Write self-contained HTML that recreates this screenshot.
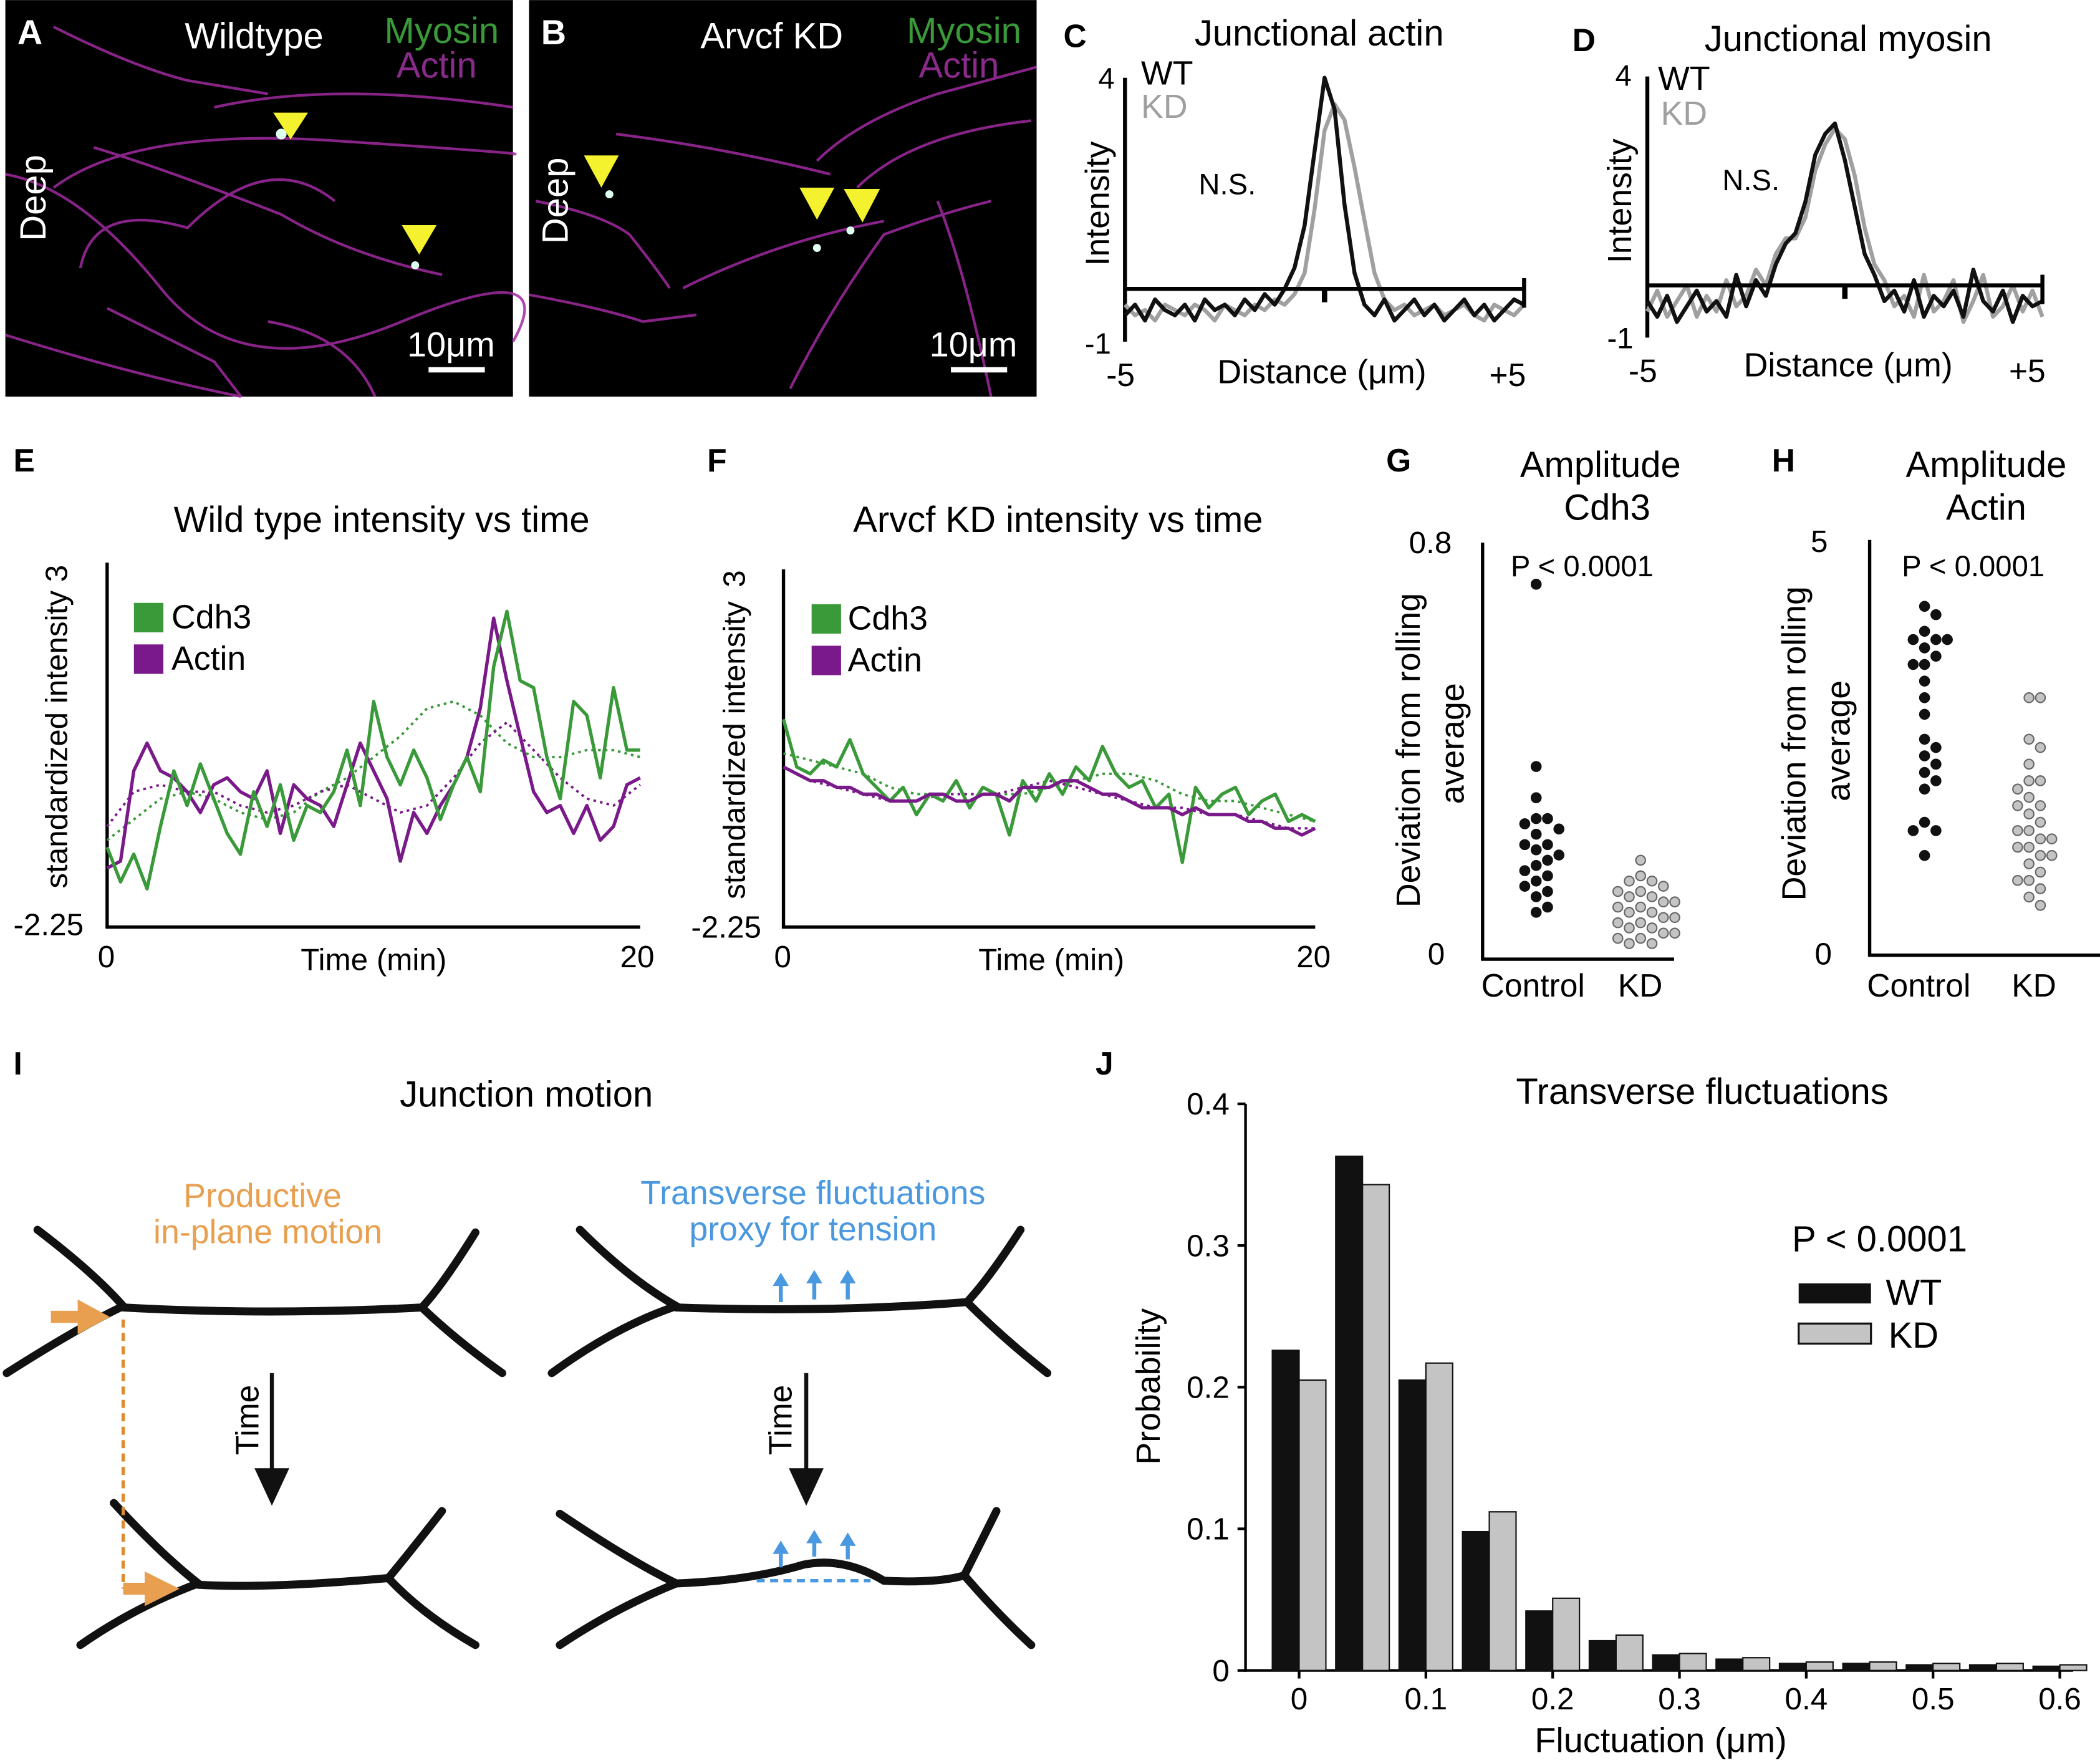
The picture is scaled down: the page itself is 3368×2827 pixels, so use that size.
<!DOCTYPE html>
<html><head><meta charset="utf-8"><style>
html,body{margin:0;padding:0;background:#fff}
svg{display:block}
text{font-family:"Liberation Sans",Arial,sans-serif}
</style></head><body>
<svg id="fig" xmlns="http://www.w3.org/2000/svg" width="3368" height="2827" viewBox="0 0 1568 1316">
<rect width="1568" height="1316" fill="#fff"/>
<!-- Panel A -->
<g>
<rect x="4" y="0" width="379" height="296" fill="#000"/>
<g fill="none" stroke="#a02aa0" stroke-width="2" opacity="0.85">
<path d="M4,130 Q60,140 120,215 T300,240 T383,255"/>
<path d="M40,140 Q100,95 250,105 T383,115"/>
<path d="M60,200 Q70,150 140,170 Q200,110 250,150"/>
<path d="M4,250 Q100,280 180,296"/>
<path d="M70,110 Q120,125 210,160 Q260,190 330,205"/>
<path d="M80,230 Q120,250 160,270 L180,296"/>
<path d="M40,20 Q100,50 140,60 L200,70"/>
<path d="M160,80 Q250,60 383,80"/>
<path d="M200,240 Q260,250 280,296"/>
</g>
<circle cx="210" cy="100" r="4" fill="#dfe"/>
<circle cx="310" cy="198" r="3" fill="#dfe"/>
<polygon points="204,84 230,84 217,104" fill="#f4f22e"/>
<polygon points="300,168 326,168 313,190" fill="#f4f22e"/>
<text x="13" y="33" font-size="26" font-weight="bold" fill="#fff">A</text>
<text x="138" y="36" font-size="27" fill="#fff">Wildtype</text>
<text x="287" y="32" font-size="27" fill="#3a9a3a">Myosin</text>
<text x="296" y="58" font-size="27" fill="#8a2a8a">Actin</text>
<text transform="translate(34,180) rotate(-90)" font-size="27" fill="#fff">Deep</text>
<text x="304" y="266" font-size="26" fill="#fff">10μm</text>
<rect x="320" y="274" width="42" height="4" fill="#fff"/>
</g>
<!-- Panel B -->
<g>
<rect x="395" y="0" width="379" height="296" fill="#000"/>
<g fill="none" stroke="#a02aa0" stroke-width="2" opacity="0.85">
<path d="M400,150 Q450,160 470,175 Q490,200 500,215"/>
<path d="M510,215 Q580,180 660,165"/>
<path d="M590,290 Q620,230 660,175 Q700,160 740,150"/>
<path d="M395,220 Q450,230 480,240 L520,235"/>
<path d="M640,140 Q680,100 770,90"/>
<path d="M610,120 Q640,90 700,70 L774,50"/>
<path d="M460,100 Q540,110 620,130"/>
<path d="M700,150 Q720,200 740,296"/>
</g>
<circle cx="455" cy="145" r="3" fill="#dfe"/>
<circle cx="610" cy="185" r="3" fill="#dfe"/>
<circle cx="635" cy="172" r="3" fill="#dfe"/>
<polygon points="436,116 462,116 449,140" fill="#f4f22e"/>
<polygon points="597,140 623,140 610,164" fill="#f4f22e"/>
<polygon points="630,141 657,141 644,166" fill="#f4f22e"/>
<text x="404" y="33" font-size="26" font-weight="bold" fill="#fff">B</text>
<text x="523" y="36" font-size="27" fill="#fff">Arvcf KD</text>
<text x="677" y="32" font-size="27" fill="#3a9a3a">Myosin</text>
<text x="686" y="58" font-size="27" fill="#8a2a8a">Actin</text>
<text transform="translate(424,182) rotate(-90)" font-size="27" fill="#fff">Deep</text>
<text x="694" y="266" font-size="26" fill="#fff">10μm</text>
<rect x="710" y="274" width="42" height="4" fill="#fff"/>
</g>
<!-- Static labels -->
<g font-size="25" fill="#000">
<text x="794" y="35" font-weight="bold" font-size="24">C</text>
<text x="985" y="34" text-anchor="middle" font-size="27">Junctional actin</text>
<text x="852" y="63" font-size="25">WT</text>
<text x="852" y="88" font-size="25" fill="#a0a0a0">KD</text>
<text x="895" y="145" font-size="22">N.S.</text>
<text transform="translate(828,152) rotate(-90)" text-anchor="middle" font-size="25">Intensity</text>
<text x="820" y="66" font-size="22">4</text>
<text x="810" y="264" font-size="22">-1</text>
<text x="826" y="288" font-size="24">-5</text>
<text x="1112" y="288" font-size="24">+5</text>
<text x="987" y="286" text-anchor="middle" font-size="25">Distance (μm)</text>

<text x="1174" y="38" font-weight="bold" font-size="24">D</text>
<text x="1380" y="38" text-anchor="middle" font-size="27">Junctional myosin</text>
<text x="1238" y="67" font-size="25">WT</text>
<text x="1240" y="93" font-size="25" fill="#a0a0a0">KD</text>
<text x="1286" y="142" font-size="22">N.S.</text>
<text transform="translate(1218,150) rotate(-90)" text-anchor="middle" font-size="25">Intensity</text>
<text x="1206" y="64" font-size="22">4</text>
<text x="1200" y="260" font-size="22">-1</text>
<text x="1216" y="285" font-size="24">-5</text>
<text x="1500" y="285" font-size="24">+5</text>
<text x="1380" y="281" text-anchor="middle" font-size="25">Distance (μm)</text>

<text x="10" y="352" font-weight="bold" font-size="24">E</text>
<text x="285" y="397" text-anchor="middle" font-size="27">Wild type intensity vs time</text>
<text transform="translate(50,552) rotate(-90)" text-anchor="middle" font-size="23">standardized intensity</text>
<text transform="translate(50,428) rotate(-90)" text-anchor="middle" font-size="23">3</text>
<text x="10" y="698" font-size="23">-2.25</text>
<text x="73" y="722" font-size="23">0</text>
<text x="463" y="722" font-size="23">20</text>
<text x="279" y="724" text-anchor="middle" font-size="23">Time (min)</text>

<text x="528" y="352" font-weight="bold" font-size="24">F</text>
<text x="790" y="397" text-anchor="middle" font-size="27">Arvcf KD intensity vs time</text>
<text transform="translate(556,560) rotate(-90)" text-anchor="middle" font-size="23">standardized intensity</text>
<text transform="translate(556,432) rotate(-90)" text-anchor="middle" font-size="23">3</text>
<text x="516" y="700" font-size="23">-2.25</text>
<text x="578" y="722" font-size="23">0</text>
<text x="968" y="722" font-size="23">20</text>
<text x="785" y="724" text-anchor="middle" font-size="23">Time (min)</text>

<text x="1035" y="352" font-weight="bold" font-size="24">G</text>
<text x="1195" y="356" text-anchor="middle" font-size="27">Amplitude</text>
<text x="1200" y="388" text-anchor="middle" font-size="27">Cdh3</text>
<text x="1128" y="430" font-size="22">P &lt; 0.0001</text>
<text transform="translate(1060,560) rotate(-90)" text-anchor="middle" font-size="25">Deviation from rolling</text>
<text transform="translate(1093,555) rotate(-90)" text-anchor="middle" font-size="25">average</text>
<text x="1052" y="413" font-size="23">0.8</text>
<text x="1066" y="720" font-size="23">0</text>
<text x="1106" y="744" font-size="24">Control</text>
<text x="1208" y="744" font-size="24">KD</text>

<text x="1323" y="352" font-weight="bold" font-size="24">H</text>
<text x="1483" y="356" text-anchor="middle" font-size="27">Amplitude</text>
<text x="1483" y="388" text-anchor="middle" font-size="27">Actin</text>
<text x="1420" y="430" font-size="22">P &lt; 0.0001</text>
<text transform="translate(1348,555) rotate(-90)" text-anchor="middle" font-size="25">Deviation from rolling</text>
<text transform="translate(1381,553) rotate(-90)" text-anchor="middle" font-size="25">average</text>
<text x="1352" y="412" font-size="23">5</text>
<text x="1355" y="720" font-size="23">0</text>
<text x="1394" y="744" font-size="24">Control</text>
<text x="1502" y="744" font-size="24">KD</text>

<text x="10" y="802" font-weight="bold" font-size="24">I</text>
<text x="393" y="826" text-anchor="middle" font-size="27">Junction motion</text>
<text x="196" y="901" text-anchor="middle" font-size="25" fill="#e8a050">Productive</text>
<text x="200" y="928" text-anchor="middle" font-size="25" fill="#e8a050">in-plane motion</text>
<text x="607" y="899" text-anchor="middle" font-size="25" fill="#4a98e0">Transverse fluctuations</text>
<text x="607" y="926" text-anchor="middle" font-size="25" fill="#4a98e0">proxy for tension</text>
<text transform="translate(193,1060) rotate(-90)" text-anchor="middle" font-size="24">Time</text>
<text transform="translate(591,1060) rotate(-90)" text-anchor="middle" font-size="24">Time</text>

<text x="818" y="802" font-weight="bold" font-size="24">J</text>
<text x="1271" y="824" text-anchor="middle" font-size="27">Transverse fluctuations</text>
<text transform="translate(866,1035) rotate(-90)" text-anchor="middle" font-size="25">Probability</text>
<text x="1240" y="1308" text-anchor="middle" font-size="26">Fluctuation (μm)</text>
<text x="1338" y="934" font-size="27">P &lt; 0.0001</text>
<text x="1408" y="974" font-size="27">WT</text>
<text x="1410" y="1006" font-size="27">KD</text>
</g>
<rect x="1343" y="958" width="54" height="15" fill="#111"/>
<rect x="1343" y="988" width="54" height="15" fill="#c4c4c4" stroke="#111" stroke-width="1.5"/>

<!-- Legend E/F -->
<g font-size="25">
<rect x="100" y="450" width="22" height="22" fill="#3a9a3a"/><text x="128" y="469">Cdh3</text>
<rect x="100" y="481" width="22" height="22" fill="#7a1a8a"/><text x="128" y="500">Actin</text>
<rect x="606" y="451" width="22" height="22" fill="#3a9a3a"/><text x="633" y="470">Cdh3</text>
<rect x="606" y="482" width="22" height="22" fill="#7a1a8a"/><text x="633" y="501">Actin</text>
</g>

<!-- Panel I drawing -->
<g fill="none" stroke="#111" stroke-width="6" stroke-linecap="round">
<path d="M28,918 Q70,950 92,975 Q60,990 5,1025"/>
<path d="M92,976 Q200,982 315,976"/>
<path d="M355,920 Q330,960 315,976 Q340,1000 375,1025"/>
<path d="M85,1122 Q120,1160 148,1182 Q100,1200 60,1228"/>
<path d="M148,1183 Q200,1186 290,1178"/>
<path d="M330,1128 Q305,1160 290,1178 Q315,1205 355,1228"/>
<path d="M433,918 Q470,955 505,975 Q460,990 412,1025"/>
<path d="M505,976 Q620,980 722,972"/>
<path d="M762,918 Q738,955 722,972 Q750,1000 782,1025"/>
<path d="M418,1130 Q470,1165 505,1182 Q460,1200 418,1228"/>
<path d="M505,1182 Q560,1180 600,1168 Q630,1162 660,1180 Q700,1182 720,1176"/>
<path d="M744,1128 Q728,1160 720,1176 Q745,1205 770,1228"/>
</g>
<g>
<line x1="38" y1="983" x2="62" y2="983" stroke="#e8a050" stroke-width="9"/>
<polygon points="58,970 82,983 58,996" fill="#e8a050"/>
<line x1="92" y1="985" x2="92" y2="1186" stroke="#e08a30" stroke-width="2.5" stroke-dasharray="6,4"/>
<line x1="92" y1="1186" x2="112" y2="1186" stroke="#e8a050" stroke-width="9"/>
<polygon points="108,1173 134,1186 108,1199" fill="#e8a050"/>
<line x1="203" y1="1025" x2="203" y2="1098" stroke="#111" stroke-width="3"/>
<polygon points="190,1096 216,1096 203,1124" fill="#111"/>
<line x1="602" y1="1025" x2="602" y2="1098" stroke="#111" stroke-width="3"/>
<polygon points="589,1096 615,1096 602,1124" fill="#111"/>
<line x1="565" y1="1180" x2="650" y2="1180" stroke="#4a98e0" stroke-width="2.5" stroke-dasharray="6,4"/>
<g stroke="#4a98e0" stroke-width="3" fill="#4a98e0">
<line x1="583" y1="972" x2="583" y2="958"/><polygon points="577,960 589,960 583,950" stroke="none"/>
<line x1="608" y1="970" x2="608" y2="956"/><polygon points="602,958 614,958 608,948" stroke="none"/>
<line x1="633" y1="970" x2="633" y2="956"/><polygon points="627,958 639,958 633,948" stroke="none"/>
<line x1="583" y1="1170" x2="583" y2="1160"/><polygon points="577,1160 589,1160 583,1150" stroke="none"/>
<line x1="608" y1="1162" x2="608" y2="1152"/><polygon points="602,1152 614,1152 608,1142" stroke="none"/>
<line x1="633" y1="1164" x2="633" y2="1154"/><polygon points="627,1154 639,1154 633,1144" stroke="none"/>
</g>
</g>
<g id="dyn"></g>
</svg>
<script>
// ---- Panel C data (x = -5..+5 step 0.25) ----
const cWT=[-0.5,-0.3,-0.6,-0.2,-0.4,-0.5,-0.3,-0.6,-0.2,-0.4,-0.3,-0.5,-0.2,-0.4,-0.1,-0.3,0,0.4,1.2,2.6,4.0,3.4,1.6,0.3,-0.3,-0.5,-0.2,-0.6,-0.4,-0.2,-0.5,-0.3,-0.6,-0.4,-0.2,-0.5,-0.3,-0.6,-0.4,-0.2,-0.3];
const cKD=[-0.3,-0.5,-0.4,-0.6,-0.3,-0.4,-0.5,-0.3,-0.4,-0.6,-0.3,-0.4,-0.5,-0.3,-0.4,-0.2,-0.3,-0.1,0.3,1.5,3.0,3.5,3.2,2.3,1.3,0.3,-0.2,-0.4,-0.3,-0.5,-0.4,-0.3,-0.5,-0.4,-0.3,-0.5,-0.6,-0.3,-0.4,-0.5,-0.3];
// ---- Panel D data ----
const dWT=[-0.3,-0.6,-0.2,-0.7,-0.4,-0.1,-0.5,-0.3,-0.6,0.2,-0.4,0.1,-0.2,0.4,0.8,1.0,1.6,2.5,2.9,3.1,2.4,1.5,0.6,0.2,-0.3,-0.1,-0.5,0.1,-0.6,-0.2,-0.4,-0.1,-0.6,0.3,-0.3,-0.5,-0.1,-0.7,-0.2,-0.4,-0.3];
const dKD=[-0.5,-0.1,-0.6,-0.3,0.0,-0.6,-0.2,-0.5,0.1,-0.4,-0.2,0.3,0.0,0.6,0.9,0.9,1.3,2.2,2.7,3.0,2.8,2.1,1.1,0.4,0.1,-0.4,-0.2,-0.6,0.2,-0.5,-0.3,0.1,-0.7,-0.3,0.2,-0.6,-0.4,0.0,-0.5,-0.1,-0.6];
// ---- Panel E data (t = 0..20 step 0.5) ----
const eCdh3=[-1.1,-1.6,-1.2,-1.7,-0.8,0.0,-0.5,0.1,-0.4,-0.9,-1.2,-0.3,-0.8,-0.2,-1.0,-0.5,-0.6,-0.3,0.3,-0.5,1.0,0.2,-0.2,0.3,-0.1,-0.7,-0.2,0.2,-0.3,1.5,2.3,1.3,1.2,0.2,-0.4,1.0,0.8,-0.1,1.2,0.3,0.3];
const eActin=[-1.4,-1.3,0.0,0.4,0.0,-0.1,-0.3,-0.6,-0.2,-0.1,-0.3,-0.4,0.0,-0.9,-0.2,-0.4,-0.5,-0.8,-0.2,0.4,0.0,-0.4,-1.3,-0.6,-0.9,-0.5,-0.2,0.2,0.9,2.2,1.3,0.5,-0.3,-0.6,-0.5,-0.9,-0.5,-1.0,-0.8,-0.2,-0.1];
// smoothed (t = 0..20 step 1)
const eCdh3Smooth=[-1.0,-0.7,-0.4,-0.3,-0.4,-0.6,-0.7,-0.6,-0.3,-0.1,0.2,0.5,0.9,1.0,0.8,0.4,0.2,0.2,0.3,0.3,0.2];
const eActinSmooth=[-0.8,-0.3,-0.2,-0.3,-0.3,-0.5,-0.6,-0.5,-0.3,-0.2,-0.4,-0.6,-0.5,-0.1,0.4,0.7,0.3,-0.1,-0.4,-0.5,-0.2];
// ---- Panel F data ----
const fCdh3=[0.8,0.1,0.0,0.2,0.1,0.5,0.0,-0.2,-0.4,-0.2,-0.6,-0.3,-0.4,-0.1,-0.5,-0.2,-0.3,-0.9,-0.1,-0.4,0.0,-0.3,0.1,-0.1,0.4,0.0,-0.2,-0.1,-0.5,-0.3,-1.3,-0.2,-0.5,-0.3,-0.2,-0.6,-0.4,-0.3,-0.7,-0.6,-0.7];
const fActin=[0.1,0.0,-0.1,-0.1,-0.2,-0.2,-0.3,-0.3,-0.4,-0.4,-0.4,-0.3,-0.3,-0.4,-0.4,-0.3,-0.3,-0.4,-0.2,-0.2,-0.2,-0.1,-0.1,-0.2,-0.3,-0.3,-0.4,-0.5,-0.5,-0.5,-0.6,-0.5,-0.6,-0.6,-0.6,-0.7,-0.7,-0.8,-0.8,-0.9,-0.8];
const fCdh3Smooth=[0.3,0.2,0.1,0.0,-0.2,-0.3,-0.3,-0.3,-0.3,-0.3,-0.2,-0.1,0.0,0.0,-0.1,-0.3,-0.4,-0.4,-0.5,-0.6,-0.7];
const fActinSmooth=[0.1,-0.1,-0.2,-0.3,-0.4,-0.4,-0.3,-0.3,-0.3,-0.2,-0.1,-0.2,-0.3,-0.4,-0.5,-0.5,-0.6,-0.6,-0.7,-0.8,-0.8];
// ---- Panel G data ----
const gControl=[0.72,0.37,0.31,0.27,0.27,0.26,0.25,0.24,0.22,0.22,0.21,0.2,0.19,0.18,0.17,0.16,0.15,0.14,0.13,0.12,0.1,0.09];
const gKD=[0.19,0.16,0.15,0.15,0.14,0.13,0.13,0.12,0.12,0.11,0.11,0.10,0.10,0.09,0.09,0.08,0.08,0.07,0.07,0.06,0.06,0.05,0.05,0.04,0.04,0.03,0.03];
// ---- Panel H data ----
const hControl=[4.2,4.1,3.9,3.8,3.8,3.8,3.7,3.6,3.5,3.5,3.3,3.1,2.9,2.6,2.5,2.4,2.3,2.2,2.1,2.0,1.6,1.5,1.5,1.2];
const hKD=[3.1,3.1,2.6,2.5,2.3,2.1,2.1,2.0,1.9,1.8,1.8,1.7,1.6,1.5,1.5,1.4,1.4,1.3,1.3,1.2,1.2,1.1,1.0,0.9,0.9,0.8,0.7,0.6];
// ---- Panel J data ----
const jBins=[0,0.05,0.1,0.15,0.2,0.25,0.3,0.35,0.4,0.45,0.5,0.55,0.6];
const jWT=[0.226,0.363,0.205,0.098,0.042,0.021,0.011,0.008,0.005,0.005,0.004,0.004,0.003];
const jKD=[0.205,0.343,0.217,0.112,0.051,0.025,0.012,0.009,0.006,0.006,0.005,0.005,0.004];
const jTicks=[0,0.1,0.2,0.3,0.4,0.5,0.6];
const jYTicks=[0,0.1,0.2,0.3,0.4];

const NS='http://www.w3.org/2000/svg';
const root=document.getElementById('dyn');
function mk(tag,attrs){const e=document.createElementNS(NS,tag);for(const k in attrs)e.setAttribute(k,attrs[k]);root.appendChild(e);return e;}
function lin(d0,d1,r0,r1){return v=>r0+(v-d0)/(d1-d0)*(r1-r0);}
function line(a,b,c,d,w,name){const e=mk('line',{x1:a,y1:b,x2:c,y2:d,stroke:'#000','stroke-width':w});

return e;}
function series(vals,x0,x1,ys,xs,color,w,dash,name){
  const n=vals.length;const pts=vals.map((v,i)=>xs(x0+(x1-x0)*i/(n-1)).toFixed(1)+','+ys(v).toFixed(1)).join(' ');
  const e=mk('polyline',{points:pts,fill:'none',stroke:color,'stroke-width':w,'stroke-linejoin':'round'});
  if(dash)e.setAttribute('stroke-dasharray',dash);
  
  
}
// Panel C
{const xs=lin(-5,5,840,1138), ys=lin(-1,4,255,58);
line(840,ys(-1),840,ys(4),3,'c-y-axis');
series(cKD,-5,5,ys,xs,'#a0a0a0',3,null,'c-kd-line');
series(cWT,-5,5,ys,xs,'#111',3,null,'c-wt-line');
line(840,ys(0),1138,ys(0),3,'c-zero-line');line(1138,ys(0)-8,1138,ys(0)+14,3,'c-end-tick');line(xs(0),ys(0),xs(0),ys(0)+10,4,'c-center-tick');}
// Panel D
{const xs=lin(-5,5,1230,1525), ys=lin(-1,4,252,57);
line(1230,ys(-1),1230,ys(4),3,'d-y-axis');
series(dKD,-5,5,ys,xs,'#a0a0a0',3,null,'d-kd-line');
series(dWT,-5,5,ys,xs,'#111',3,null,'d-wt-line');
line(1230,ys(0),1525,ys(0),3,'d-zero-line');line(1525,ys(0)-8,1525,ys(0)+14,3,'d-end-tick');line(xs(0),ys(0),xs(0),ys(0)+10,4,'d-center-tick');}
// Panel E
{const xs=lin(0,20,80,478), ys=lin(-2.25,3,692,420);
line(80,420,80,693,2.5,'e-y-axis');line(79,692,478,692,2.5,'e-x-axis');
series(eCdh3Smooth,0,20,ys,xs,'#3a9a3a',1.8,'2,3','e-cdh3-smooth');
series(eActinSmooth,0,20,ys,xs,'#7a1a8a',1.8,'2,3','e-actin-smooth');
series(eActin,0,20,ys,xs,'#7a1a8a',2.5,null,'e-actin-line');
series(eCdh3,0,20,ys,xs,'#3a9a3a',2.5,null,'e-cdh3-line');}
// Panel F
{const xs=lin(0,20,585,982), ys=lin(-2.25,3,692,425);
line(585,425,585,693,2.5,'f-y-axis');line(584,692,982,692,2.5,'f-x-axis');
series(fCdh3Smooth,0,20,ys,xs,'#3a9a3a',1.8,'2,3','f-cdh3-smooth');
series(fActinSmooth,0,20,ys,xs,'#7a1a8a',1.8,'2,3','f-actin-smooth');
series(fCdh3,0,20,ys,xs,'#3a9a3a',2.5,null,'f-cdh3-line');
series(fActin,0,20,ys,xs,'#7a1a8a',2.5,null,'f-actin-line');}
// beeswarm
function swarm(vals,cx,ys,fill,stroke,name){
  const placed=[];
  vals.forEach(v=>{const y=ys(v);let off=0;
    for(let k=0;k<20;k++){const cand=k===0?0:(k%2?1:-1)*Math.ceil(k/2)*8.5;
      if(placed.every(p=>Math.hypot(p[0]-(cx+cand),p[1]-y)>=8)){off=cand;break;}}
    placed.push([cx+off,y]);
    const c=mk('circle',{cx:cx+off,cy:y,r:3.6,fill:fill,stroke:stroke,'stroke-width':1});
    
    });
}
{const ys=lin(0,0.8,716,405);
line(1107,405,1107,717,2.5,'g-y-axis');line(1106,716,1250,716,2.5,'g-x-axis');
swarm(gControl,1147,ys,'#111','#111','g-control-dot');swarm(gKD,1225,ys,'#c4c4c4','#666','g-kd-dot');}
{const ys=lin(0,5,713,403);
line(1396,403,1396,714,2.5,'h-y-axis');line(1395,713,1568,713,2.5,'h-x-axis');
swarm(hControl,1437,ys,'#111','#111','h-control-dot');swarm(hKD,1515,ys,'#c4c4c4','#666','h-kd-dot');}
// Panel J
{const xs=lin(0,0.6,970,1538), ys=lin(0,0.4,1247,824);
line(930,824,930,1248,2,'j-y-axis');line(929,1247,1548,1247,2,'j-x-axis');
jYTicks.forEach(t=>{line(924,ys(t),930,ys(t),2,'j-y-tick');const tx=mk('text',{x:918,y:ys(t)+8,'text-anchor':'end','font-size':23});tx.textContent=t===0?'0':String(t);

});
jTicks.forEach(t=>{line(xs(t),1247,xs(t),1253,2,'j-x-tick');const tx=mk('text',{x:xs(t),y:1276,'text-anchor':'middle','font-size':23});tx.textContent=t===0?'0':String(t);

});
jBins.forEach((b,i)=>{const x=xs(b);
 const r1=mk('rect',{x:x-20,y:ys(jWT[i]),width:20,height:1247-ys(jWT[i]),fill:'#111',stroke:'#111','stroke-width':1});
 
 
 const r2=mk('rect',{x:x,y:ys(jKD[i]),width:20,height:1247-ys(jKD[i]),fill:'#c4c4c4',stroke:'#111','stroke-width':1});
 
 });}
</script>
</body></html>
